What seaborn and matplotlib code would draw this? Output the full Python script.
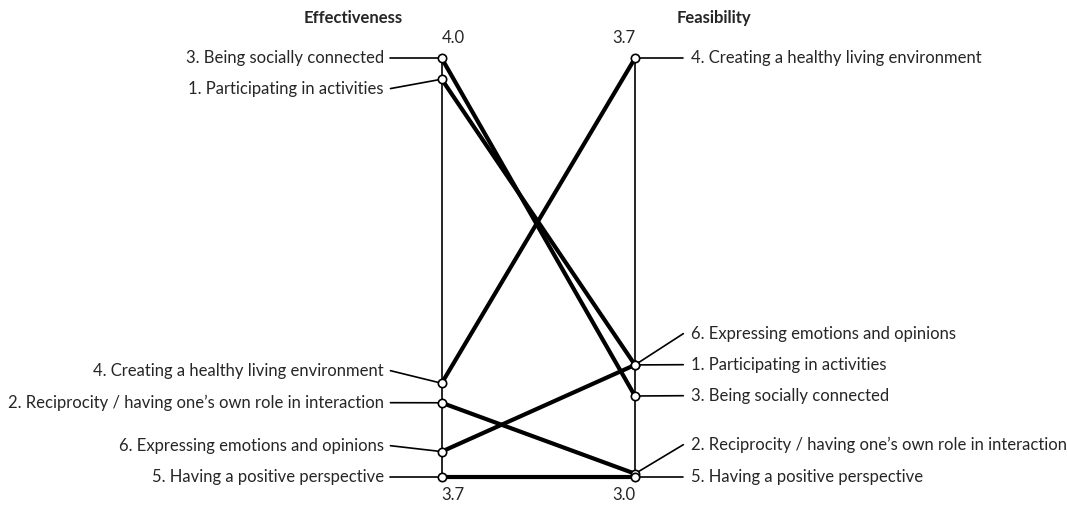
import pandas as pd
import seaborn as sns
import matplotlib.pyplot as plt

# item labels (same order for both columns)
items = ['1. Participating in activities',
         '2. Reciprocity / having one\u2019s own role in interaction',
         '3. Being socially connected',
         '4. Creating a healthy living environment',
         '5. Having a positive perspective',
         '6. Expressing emotions and opinions']

# mean scores
effectiveness = [3.985, 3.753, 4.00, 3.767, 3.70, 3.718]
feasibility = [3.187, 3.005, 3.135, 3.70, 3.00, 3.187]

# scale ends of each column
eff_range = (3.7, 4.0)
fea_range = (3.0, 3.7)

# label layout (normalised y of each text, same order as items)
left_label_y = [0.9276, 0.1769, 1.0, 0.2534, 0.0, 0.0741]
right_label_y = [0.2677, 0.0765, 0.1936, 1.0, 0.0, 0.3419]

sns.set_style('white')
plt.rcParams['font.family'] = ['Lato', 'DejaVu Sans']


def norm(v, rng):
  return (v - rng[0]) / (rng[1] - rng[0])


# long table for seaborn
rows = []
for i, name in enumerate(items):
  rows.append({'item': name, 'side': 0, 'pos': norm(effectiveness[i], eff_range)})
  rows.append({'item': name, 'side': 1, 'pos': norm(feasibility[i], fea_range)})
df = pd.DataFrame(rows)

fig = plt.figure(figsize=(10.67, 5.09), dpi=100)
ax = fig.add_axes([0, 0, 1, 1])

# the two vertical scales
ax.plot([0, 0], [0, 1], color='black', lw=1.2, zorder=1)
ax.plot([1, 1], [0, 1], color='black', lw=1.2, zorder=1)

sns.lineplot(data=df, x='side', y='pos', units='item', estimator=None,
             color='black', lw=3.0, legend=False, sort=False, ax=ax, zorder=2)

# leader lines and labels
fs = 12
for i, name in enumerate(items):
  yl = df[(df['item'] == name) & (df['side'] == 0)]['pos'].iloc[0]
  yr = df[(df['item'] == name) & (df['side'] == 1)]['pos'].iloc[0]
  ax.plot([-0.265, 0], [left_label_y[i], yl], color='black', lw=1.2, zorder=1)
  ax.text(-0.30, left_label_y[i], name, ha='right', va='center', fontsize=fs)
  ax.plot([1, 1.25], [yr, right_label_y[i]], color='black', lw=1.2, zorder=1)
  ax.text(1.29, right_label_y[i], name, ha='left', va='center', fontsize=fs)

sns.scatterplot(data=df, x='side', y='pos', color='white', edgecolor='black',
                linewidth=1.2, s=36, legend=False, ax=ax, zorder=3)

# scale end values
ax.text(0, 1.048, f'{eff_range[1]:.1f}', ha='left', va='center', fontsize=fs)
ax.text(1, 1.048, f'{fea_range[1]:.1f}', ha='right', va='center', fontsize=fs)
ax.text(0, -0.044, f'{eff_range[0]:.1f}', ha='left', va='center', fontsize=fs)
ax.text(1, -0.044, f'{fea_range[0]:.1f}', ha='right', va='center', fontsize=fs)

# column titles
ax.text(-0.459, 1.096, 'Effectiveness', ha='center', va='center', fontsize=fs, fontweight='bold')
ax.text(1.409, 1.096, 'Feasibility', ha='center', va='center', fontsize=fs, fontweight='bold')

ax.set_xlim(-2.285, 3.235)
ax.set_ylim(-0.0772, 1.1393)
ax.axis('off')

fig.savefig('out.png', dpi=100)
